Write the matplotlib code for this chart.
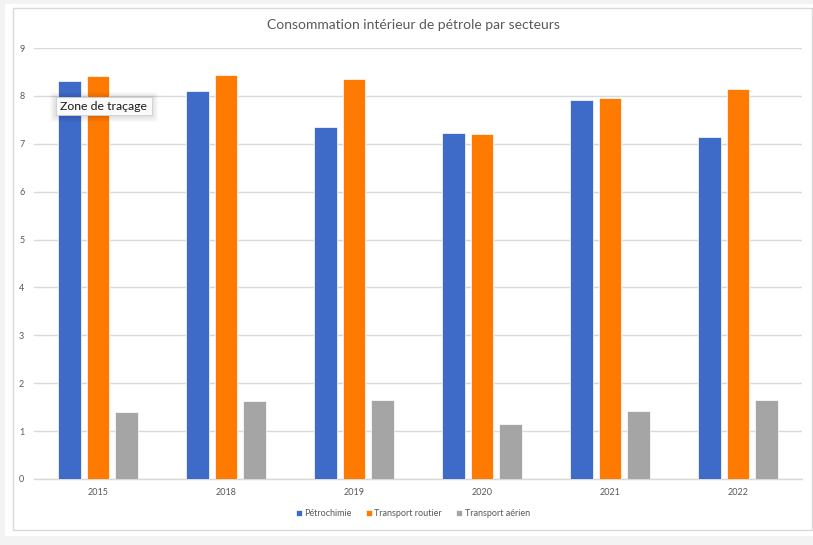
import matplotlib
matplotlib.use("Agg")
import matplotlib.pyplot as plt
from matplotlib.patches import Rectangle, FancyBboxPatch
import numpy as np

# Data: domestic oil consumption by sector
years = ["2015", "2018", "2019", "2020", "2021", "2022"]
petrochimie = [8.32, 8.10, 7.35, 7.22, 7.92, 7.14]
transport_routier = [8.42, 8.44, 8.35, 7.20, 7.95, 8.15]
transport_aerien = [1.39, 1.62, 1.65, 1.14, 1.43, 1.66]
series_names = ["Pétrochimie", "Transport routier", "Transport aérien"]
colors = ["#3E6AC8", "#FF7A00", "#A5A5A5"]

plt.rcParams["font.family"] = ["Lato", "DejaVu Sans"]
W, H = 813, 545
fig = plt.figure(figsize=(W / 100, H / 100), dpi=100)
fig.patch.set_facecolor("#F3F3F3")

# white chart area with light border
fig.patches.append(Rectangle((5 / W, 1 - 536 / H), 808 / W, 532 / H,
                             transform=fig.transFigure, facecolor="white",
                             edgecolor="none", zorder=-2))
fig.patches.append(Rectangle((13 / W, 1 - 530 / H), 799 / W, 522 / H,
                             transform=fig.transFigure, facecolor="none",
                             edgecolor="#D9D9D9", linewidth=1.0, zorder=-1))

ax = fig.add_axes([34 / W, 1 - 479 / H, 768 / W, 431 / H])
ax.set_facecolor("none")
ax.set_zorder(2)

x = np.arange(len(years))
width = 0.176
step = 0.221
for i, (vals, name, c) in enumerate(zip([petrochimie, transport_routier, transport_aerien],
                                        series_names, colors)):
    ax.bar(x + (i - 1) * step, vals, width, color=c, label=name,
           edgecolor="#FFFFFF", linewidth=0.5, zorder=3)

ax.set_xlim(-0.5, len(years) - 0.5)
ax.set_ylim(0, 9)
ax.set_yticks(range(0, 10))
ax.set_xticks(x)
ax.set_xticklabels(years)
ax.yaxis.grid(True, color="#D9D9D9", linewidth=1.0, zorder=0)
ax.set_axisbelow(True)
for s in ["top", "right", "left"]:
    ax.spines[s].set_visible(False)
ax.spines["bottom"].set_color("#D9D9D9")
ax.spines["bottom"].set_linewidth(1.0)
ax.tick_params(axis="both", length=0, labelsize=6.5, colors="#595959")
ax.tick_params(axis="y", pad=7)
ax.tick_params(axis="x", pad=6.5)

fig.text(413 / W, 1 - 25 / H, "Consommation intérieur de pétrole par secteurs",
         ha="center", va="center", fontsize=10, color="#595959")

leg = fig.legend(loc="center", bbox_to_anchor=(413 / W, 1 - 514 / H), ncol=3,
                 frameon=False, fontsize=6.5, handlelength=0.6, handleheight=0.6,
                 handletextpad=0.3, columnspacing=1.6, labelcolor="#595959")

# hover tooltip over the plot area
bx0, by0, bw, bh = 56, 97, 96, 18
for k in range(6, 0, -1):
    fig.patches.append(FancyBboxPatch(((bx0 - k) / W, 1 - (by0 + bh + k + 1) / H),
                                      (bw + 2 * k) / W, (bh + 2 * k) / H,
                                      boxstyle="round,pad=0,rounding_size=0.004",
                                      transform=fig.transFigure, facecolor="black",
                                      edgecolor="none", alpha=0.018, zorder=5))
fig.patches.append(Rectangle((bx0 / W, 1 - (by0 + bh) / H), bw / W, bh / H,
                             transform=fig.transFigure, facecolor="#FAFAFA",
                             edgecolor="#CFCFCF", linewidth=0.6, zorder=6))
fig.text((bx0 + bw / 2) / W, 1 - (by0 + bh / 2) / H, "Zone de traçage",
         ha="center", va="center", fontsize=8.8, color="#1A1A1A", zorder=7)

fig.savefig("out.png", dpi=100, facecolor=fig.get_facecolor())
